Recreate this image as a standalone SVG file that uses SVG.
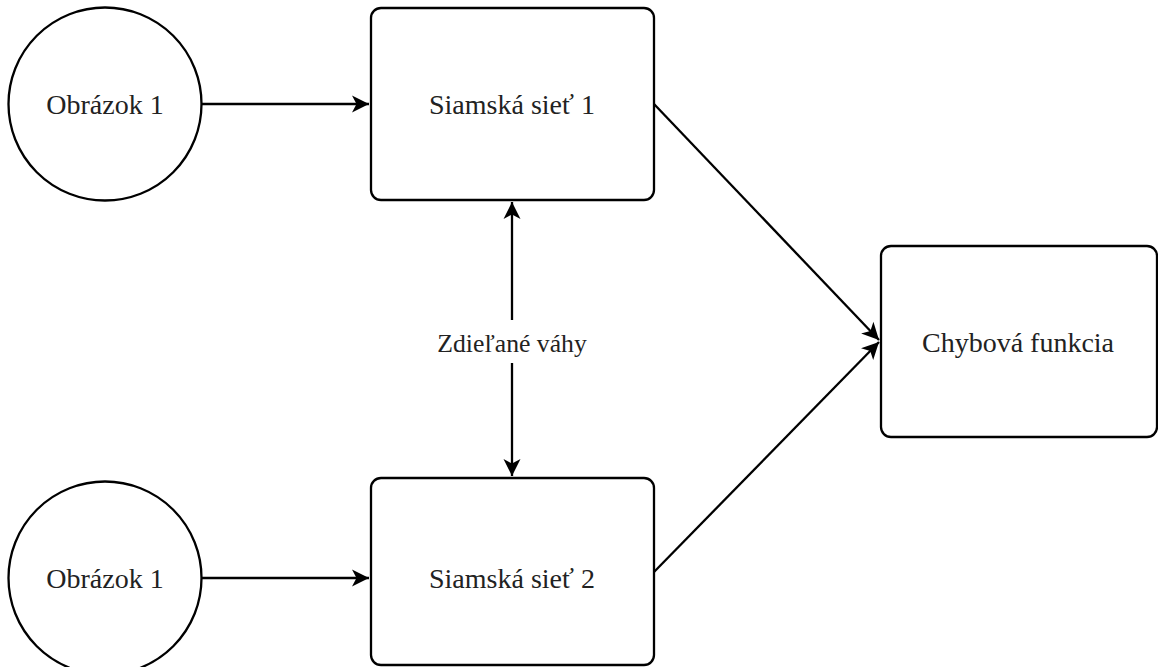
<svg xmlns="http://www.w3.org/2000/svg" width="1158" height="667" viewBox="0 0 1158 667">
<style>
.shape{fill:#fff;stroke:#000;stroke-width:2.3}
.lbl{font-family:"Liberation Serif","Times New Roman",serif;font-size:28px;fill:#222;text-anchor:middle}
.elbl{font-family:"Liberation Serif","Times New Roman",serif;font-size:25.7px;fill:#222;text-anchor:middle}
.edge{fill:none;stroke:#000;stroke-width:2.3}
</style>
<defs>
<marker id="arr" markerUnits="userSpaceOnUse" markerWidth="20" markerHeight="20" viewBox="-18 -10 20 20" refX="0" refY="0" orient="auto-start-reverse">
<path d="M0,0 L-17,-8.5 L-12.5,0 L-17,8.5 Z" fill="#000"/>
</marker>
</defs>
<rect width="1158" height="667" fill="#fff"/>
<g id="connectors">
<line class="edge" x1="202" y1="104" x2="369" y2="104" marker-end="url(#arr)"/>
<line class="edge" x1="202" y1="578" x2="369" y2="578" marker-end="url(#arr)"/>
<line class="edge" x1="512" y1="320" x2="512" y2="202" marker-end="url(#arr)"/>
<line class="edge" x1="512" y1="363" x2="512" y2="476" marker-end="url(#arr)"/>
<line class="edge" x1="654" y1="104" x2="879" y2="340" marker-end="url(#arr)"/>
<line class="edge" x1="654" y1="572" x2="879" y2="342" marker-end="url(#arr)"/>
<text class="elbl" x="512" y="352">Zdieľané váhy</text>
</g>
<g id="img1">
<circle class="shape" cx="105" cy="104" r="96.5"/>
<text class="lbl" x="105" y="114">Obrázok 1</text>
</g>
<g id="net1">
<rect class="shape" x="371" y="8" width="283" height="192" rx="10"/>
<text class="lbl" x="512" y="114">Siamská sieť 1</text>
</g>
<g id="img2">
<circle class="shape" cx="105" cy="578" r="96.5"/>
<text class="lbl" x="105" y="588">Obrázok 1</text>
</g>
<g id="net2">
<rect class="shape" x="371" y="478" width="283" height="187" rx="10"/>
<text class="lbl" x="512" y="588">Siamská sieť 2</text>
</g>
<g id="loss">
<rect class="shape" x="881" y="246" width="276" height="191" rx="10"/>
<text class="lbl" x="1018" y="352">Chybová funkcia</text>
</g>
</svg>
